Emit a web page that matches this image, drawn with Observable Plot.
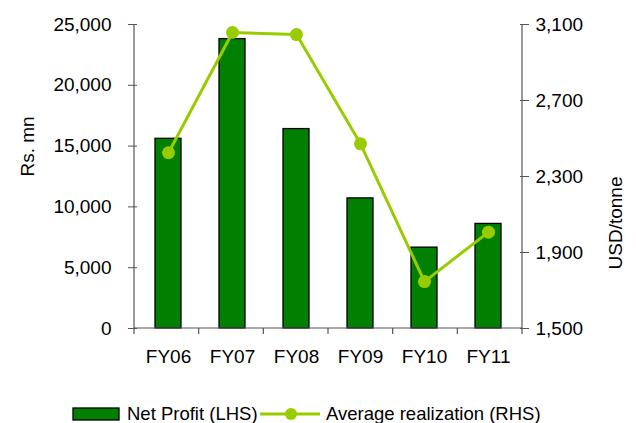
<!DOCTYPE html>
<html>
<head>
<meta charset="utf-8">
<script src="https://cdn.jsdelivr.net/npm/d3@7"></script>
<script src="https://cdn.jsdelivr.net/npm/@observablehq/plot@0.6"></script>
<style>
  body { margin: 0; background: #fff; font-family: "Liberation Sans", Arial, sans-serif; }
  #legend { position: relative; width: 636px; height: 28px; font-size: 18.5px; color: #000; }
  #legend .item { position: absolute; top: 0; height: 28px; line-height: 28px; white-space: nowrap; }
</style>
</head>
<body>
<div id="chart"></div>
<div id="legend"></div>
<script>
const categories = ["FY06", "FY07", "FY08", "FY09", "FY10", "FY11"];
const netProfit = [15600, 23800, 16400, 10700, 6650, 8600];       // Rs. mn (LHS)
const avgRealization = [2425, 3058, 3047, 2472, 1747, 2007];        // USD/tonne (RHS)
const leftTicks = [0, 5000, 10000, 15000, 20000, 25000];
const rightTicks = [1500, 1900, 2300, 2700, 3100];
const leftDomain = [0, 25000];
const rightDomain = [1500, 3100];
const seriesNames = ["Net Profit (LHS)", "Average realization (RHS)"];
const axisTitles = ["Rs. mn", "USD/tonne"];

const barColor = "#007f00";
const lineColor = "#99cc00";

const toLeft = v => leftDomain[0] + (v - rightDomain[0]) / (rightDomain[1] - rightDomain[0]) * (leftDomain[1] - leftDomain[0]);
const fromLeft = v => rightDomain[0] + (v - leftDomain[0]) / (leftDomain[1] - leftDomain[0]) * (rightDomain[1] - rightDomain[0]);

const bars = categories.map((c, i) => ({cat: c, value: netProfit[i]}));
const line = categories.map((c, i) => ({cat: c, value: toLeft(avgRealization[i])}));

const fmt = d3.format(",");

// axis lines + category boundary ticks
const frameLines = (index, scales, values, dims) => {
  const g = d3.create("svg:g").attr("stroke", "#555").attr("stroke-width", 1.2);
  const x0 = dims.marginLeft, x1 = dims.width - dims.marginRight;
  const y0 = dims.marginTop, y1 = dims.height - dims.marginBottom;
  const yBase = scales.y(0);
  g.append("line").attr("x1", x0).attr("x2", x0).attr("y1", y0).attr("y2", y1);
  g.append("line").attr("x1", x1).attr("x2", x1).attr("y1", y0).attr("y2", y1);
  g.append("line").attr("x1", x0).attr("x2", x1).attr("y1", yBase).attr("y2", yBase);
  const n = categories.length;
  for (let i = 0; i <= n; i++) {
    const x = x0 + i * (x1 - x0) / n;
    g.append("line").attr("x1", x).attr("x2", x).attr("y1", yBase).attr("y2", yBase + 6);
  }
  return g.node();
};

const chart = Plot.plot({
  width: 636,
  height: 395,
  marginLeft: 134,
  marginRight: 114,
  marginTop: 24,
  marginBottom: 67,
  style: {fontFamily: "Liberation Sans, Arial, sans-serif", fontSize: "19px", color: "#000", background: "#fff"},
  x: {domain: categories, paddingInner: 0.6, paddingOuter: 0.3, axis: null},
  y: {domain: leftDomain, axis: null},
  marks: [
    Plot.barY(bars, {x: "cat", y: "value", fill: barColor, stroke: "#000", strokeWidth: 1.3}),
    Plot.line(line, {x: "cat", y: "value", stroke: lineColor, strokeWidth: 3}),
    Plot.dot(line, {x: "cat", y: "value", r: 6.5, fill: lineColor, stroke: "none"}),
    frameLines,
    Plot.axisY(leftTicks, {anchor: "left", tickFormat: fmt, tickSize: 9, dx: 3, tickPadding: 17, stroke: "#555", fill: "#000", label: null}),
    Plot.axisY(rightTicks.map(toLeft), {anchor: "right", tickFormat: d => fmt(Math.round(fromLeft(d))), tickSize: 9, dx: -3, tickPadding: 7, stroke: "#555", fill: "#000", label: null}),
    Plot.axisX({anchor: "bottom", tickSize: 0, tickPadding: 21, fill: "#000", label: null}),
    Plot.text([axisTitles[0]], {frameAnchor: "left", rotate: -90, dx: -107, fill: "#000", fontSize: 19}),
    Plot.text([axisTitles[1]], {frameAnchor: "right", rotate: -90, dx: 93, fill: "#000", fontSize: 19})
  ]
});
document.getElementById("chart").appendChild(chart);

// legend
const legend = d3.select("#legend");
const sw1 = legend.append("svg").attr("class", "item").style("left", "72px").attr("width", 50).attr("height", 28);
sw1.append("rect").attr("x", 1).attr("y", 13).attr("width", 46).attr("height", 12).attr("fill", barColor).attr("stroke", "#000").attr("stroke-width", 1.3);
legend.append("span").attr("class", "item").style("left", "127px").style("top", "5px").text(seriesNames[0]);
const sw2 = legend.append("svg").attr("class", "item").style("left", "258px").attr("width", 64).attr("height", 28);
sw2.append("line").attr("x1", 2).attr("x2", 62).attr("y1", 19).attr("y2", 19).attr("stroke", lineColor).attr("stroke-width", 3);
sw2.append("circle").attr("cx", 33).attr("cy", 19).attr("r", 6).attr("fill", lineColor);
legend.append("span").attr("class", "item").style("left", "326px").style("top", "5px").text(seriesNames[1]);
</script>
</body>
</html>
